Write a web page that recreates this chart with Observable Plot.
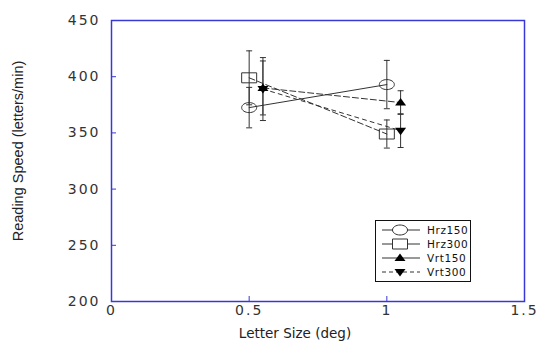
<!DOCTYPE html>
<html><head><meta charset="utf-8">
<script src="https://cdn.jsdelivr.net/npm/d3@7"></script>
<script src="https://cdn.jsdelivr.net/npm/@observablehq/plot@0.6"></script>
<style>
body{margin:0;background:#fff;}
#wrap{position:relative;width:541px;height:351px;}
#legend{position:absolute;left:375px;top:220px;}
</style></head><body><div id="wrap"></div>
<script>
// ---- data ----
const seriesNames = ["Hrz150", "Hrz300", "Vrt150", "Vrt300"];
const hrzLetterSize = [0.5, 1.0];
const vrtLetterSize = [0.55, 1.05];
const hrz150 = [372.5, 393];
const hrz150Err = [18, 21.5];
const hrz300 = [399, 349];
const hrz300Err = [24, 12.5];
const vrt150 = [390, 377];
const vrt150Err = [24, 10.5];
const vrt300 = [389, 352];
const vrt300Err = [28, 15];
const xTicks = [0, 0.5, 1, 1.5];
const yTicks = [200, 250, 300, 350, 400, 450];
const xLabel = "Letter Size (deg)";
const yLabel = "Reading Speed (letters/min)";

const rows = [];
[[hrz150, hrz150Err, hrzLetterSize], [hrz300, hrz300Err, hrzLetterSize],
 [vrt150, vrt150Err, vrtLetterSize], [vrt300, vrt300Err, vrtLetterSize]].forEach(([m, e, xs], i) => {
  m.forEach((v, j) => rows.push({series: seriesNames[i], x: xs[j], y: v, lo: v - e[j], hi: v + e[j]}));
});
const bySeries = s => rows.filter(d => d.series === s);

// ---- symbols ----
const ellipseSym = {draw(ctx) {
  const rx = 7.5, ry = 5, k = 0.5523;
  ctx.moveTo(rx, 0);
  ctx.bezierCurveTo(rx, k*ry, k*rx, ry, 0, ry);
  ctx.bezierCurveTo(-k*rx, ry, -rx, k*ry, -rx, 0);
  ctx.bezierCurveTo(-rx, -k*ry, -k*rx, -ry, 0, -ry);
  ctx.bezierCurveTo(k*rx, -ry, rx, -k*ry, rx, 0);
  ctx.closePath();
}};
const rectSym = {draw(ctx) { ctx.rect(-7.5, -5, 15, 10); }};
const triUp = {draw(ctx) { ctx.moveTo(0, -4.5); ctx.lineTo(5.5, 3); ctx.lineTo(-5.5, 3); ctx.closePath(); }};
const triDown = {draw(ctx) { ctx.moveTo(0, 4.5); ctx.lineTo(5.5, -3); ctx.lineTo(-5.5, -3); ctx.closePath(); }};
const capSym = {draw(ctx) { ctx.moveTo(-3, 0); ctx.lineTo(3, 0); }};

const lineColor = "#333";
const styles = {
  Hrz150: {dash: null, sym: ellipseSym, fill: "none", stroke: lineColor},
  Hrz300: {dash: "6,3", sym: rectSym, fill: "none", stroke: lineColor},
  Vrt150: {dash: "6,3", sym: triUp, fill: "black", stroke: "none"},
  Vrt300: {dash: "4,4", sym: triDown, fill: "black", stroke: "none"}
};

const font = "DejaVu Sans, sans-serif";
const marks = [
  Plot.frame({stroke: "#3838d8", strokeWidth: 1.5}),
  Plot.axisY({ticks: yTicks, tickSize: -5, tickPadding: 16, stroke: "#3838d8", fill: "#333", label: null,
    fontSize: 14, fontFamily: font}),
  Plot.axisX({ticks: xTicks, tickSize: -5, tickPadding: 9, stroke: "#3838d8", fill: "#333", label: null,
    fontSize: 14, fontFamily: font, tickFormat: d => String(d)}),
  Plot.text([yLabel], {frameAnchor: "left", textAnchor: "middle", lineAnchor: "middle", dx: -93, dy: -10, rotate: -90, fontSize: 14.5,
    fontFamily: "Liberation Sans Narrow, Liberation Sans, sans-serif", fill: "#222"}),
  Plot.text([xLabel], {frameAnchor: "bottom", dx: -23, dy: 36, fontSize: 13.5, fontFamily: font, fill: "#222"})
];
seriesNames.forEach(s => {
  const st = styles[s];
  marks.push(Plot.line(bySeries(s), {x: "x", y: "y", stroke: lineColor, strokeWidth: 1, strokeDasharray: st.dash}));
});
seriesNames.forEach(s => {
  marks.push(Plot.ruleX(bySeries(s), {x: "x", y1: "lo", y2: "hi", stroke: lineColor, strokeWidth: 1}));
  marks.push(Plot.dot(bySeries(s), {x: "x", y: "lo", symbol: capSym, stroke: lineColor, strokeWidth: 1}));
  marks.push(Plot.dot(bySeries(s), {x: "x", y: "hi", symbol: capSym, stroke: lineColor, strokeWidth: 1}));
});
seriesNames.forEach(s => {
  const st = styles[s];
  marks.push(Plot.dot(bySeries(s), {x: "x", y: "y", symbol: st.sym, fill: st.fill, stroke: st.stroke, strokeWidth: 1}));
});

const chart = Plot.plot({
  width: 541, height: 351,
  marginLeft: 111, marginRight: 17, marginTop: 20, marginBottom: 50,
  x: {domain: [0, 1.5]},
  y: {domain: [200, 450]},
  style: {background: "#fff", overflow: "visible"},
  marks
});
const wrap = document.getElementById("wrap");
wrap.appendChild(chart);
d3.select(chart).selectAll("g[aria-label$='tick label'] text").attr("letter-spacing", "2");

// ---- legend (inside the plot area, as in the reference) ----
const leg = d3.select(wrap).append("svg").attr("id", "legend").attr("width", 97).attr("height", 63);
leg.append("rect").attr("x", 0.5).attr("y", 0.5).attr("width", 95).attr("height", 61).attr("fill", "white").attr("stroke", "#111");
const legDash = [null, null, null, "4,3"];
const legSym = [ellipseSym, rectSym, triUp, triDown];
seriesNames.forEach((s, i) => {
  const y = 10 + i * 14;
  leg.append("line").attr("x1", 7).attr("x2", 45).attr("y1", y).attr("y2", y)
    .attr("stroke", lineColor).attr("stroke-dasharray", legDash[i]);
  const p = d3.path(); legSym[i].draw(p);
  leg.append("path").attr("d", p.toString()).attr("transform", `translate(25,${y})`)
    .attr("fill", styles[s].fill === "none" ? "white" : "black").attr("stroke", styles[s].stroke === "none" ? "none" : lineColor);
  leg.append("text").attr("x", 52).attr("y", y).attr("dy", "0.35em").attr("font-size", 10.5)
    .attr("font-family", font).attr("letter-spacing", "0.6").attr("fill", "#111").text(s);
});
</script></body></html>
